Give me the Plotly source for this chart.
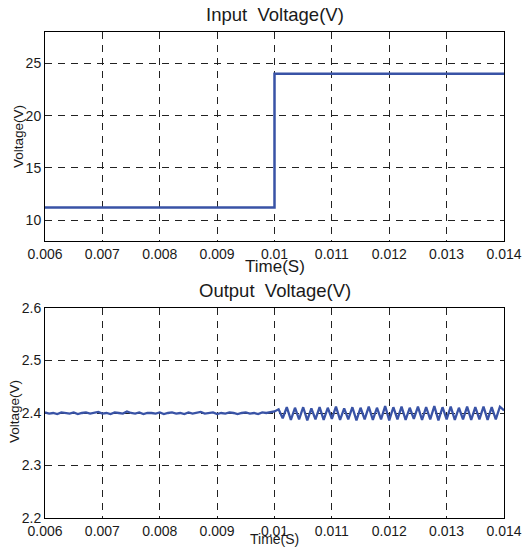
import plotly.graph_objects as go

# ---------------- data ----------------
input_time = [0.006, 0.010, 0.010, 0.014]
input_voltage = [11.2, 11.2, 24.0, 24.0]

output_t_start = 0.006
output_t_end = 0.014
output_voltage_before = [
    2.401, 2.399, 2.400, 2.398, 2.401, 2.400, 2.399, 2.401,
    2.398, 2.400, 2.401, 2.399, 2.400, 2.402, 2.399, 2.400,
    2.398, 2.401, 2.400, 2.399, 2.403, 2.400, 2.399, 2.401,
    2.398, 2.400, 2.400, 2.399, 2.401, 2.398, 2.400, 2.401,
    2.399, 2.400, 2.398, 2.401, 2.399, 2.400, 2.402, 2.399,
    2.400, 2.401, 2.398, 2.400, 2.399, 2.401, 2.400, 2.398,
    2.400, 2.401, 2.399, 2.400, 2.398, 2.401, 2.400, 2.401,
]
output_voltage_after = [
    2.403, 2.407, 2.390,
    2.411, 2.387, 2.410, 2.388, 2.411, 2.386, 2.409, 2.388,
    2.411, 2.387, 2.410, 2.389, 2.412, 2.387, 2.409, 2.388,
    2.411, 2.386, 2.410, 2.388, 2.412, 2.387, 2.410, 2.388,
    2.413, 2.386, 2.411, 2.388, 2.412, 2.387, 2.410, 2.389,
    2.412, 2.387, 2.411, 2.388, 2.413, 2.386, 2.411, 2.388,
    2.412, 2.387, 2.410, 2.388, 2.412, 2.387, 2.411, 2.388,
    2.412, 2.387, 2.411, 2.388, 2.412, 2.405,
]
output_voltage = output_voltage_before + output_voltage_after

x_tick_vals = [0.006, 0.007, 0.008, 0.009, 0.010, 0.011, 0.012, 0.013, 0.014]
x_tick_text = ["0.006", "0.007", "0.008", "0.009", "0.01", "0.011", "0.012", "0.013", "0.014"]
top_y_tick_vals = [10, 15, 20, 25]
top_y_tick_text = ["10", "15", "20", "25"]
bot_y_tick_vals = [2.2, 2.3, 2.4, 2.5, 2.6]
bot_y_tick_text = ["2.2", "2.3", "2.4", "2.5", "2.6"]

# ---------------- figure ----------------
W, H = 525, 547
LINE_COLOR = "#3953a6"
FONT = "Liberation Sans, Arial, sans-serif"
TEXT_COLOR = "#1a1a1a"

fig = go.Figure()
fig.add_trace(go.Scatter(x=input_time, y=input_voltage, mode="lines",
                         line=dict(color=LINE_COLOR, width=2.5),
                         xaxis="x", yaxis="y", showlegend=False))
fig.add_trace(go.Scatter(y=output_voltage, x0=output_t_start,
                         dx=(output_t_end - output_t_start) / (len(output_voltage) - 1),
                         mode="lines",
                         line=dict(color=LINE_COLOR, width=2.3),
                         xaxis="x2", yaxis="y2", showlegend=False))

def px_x(p):
    return p / W

def px_y(p):
    return 1 - p / H

axis_common = dict(showline=True, linecolor="black", linewidth=1, mirror=True,
                   showgrid=True, gridcolor="#222222", gridwidth=1, griddash="7px,6px",
                   zeroline=False, ticks="", automargin=False,
                   tickfont=dict(family=FONT, size=14, color=TEXT_COLOR))

fig.update_layout(
    width=W, height=H,
    margin=dict(l=0, r=0, t=0, b=0, autoexpand=False),
    paper_bgcolor="white", plot_bgcolor="white",
    font=dict(family=FONT, color=TEXT_COLOR),
    xaxis=dict(domain=[px_x(45), px_x(504)], range=[0.006, 0.014], anchor="y",
               tickvals=x_tick_vals, ticktext=x_tick_text, **axis_common),
    yaxis=dict(domain=[px_y(241), px_y(32)], range=[8, 28], anchor="x",
               tickvals=top_y_tick_vals, ticktext=top_y_tick_text, **axis_common),
    xaxis2=dict(domain=[px_x(45), px_x(504)], range=[0.006, 0.014], anchor="y2",
                tickvals=x_tick_vals, ticktext=x_tick_text, **axis_common),
    yaxis2=dict(domain=[px_y(518), px_y(308)], range=[2.2, 2.6], anchor="x2",
                tickvals=bot_y_tick_vals, ticktext=bot_y_tick_text, **axis_common),
)

annots = [
    dict(text="Input\u00a0 Voltage(V)", x=px_x(274.5), y=px_y(15), size=18.5, angle=0),
    dict(text="Output\u00a0 Voltage(V)", x=px_x(274.5), y=px_y(290), size=18.5, angle=0),
    dict(text="Time(S)", x=px_x(274.5), y=px_y(266), size=17, angle=0),
    dict(text="Time(S)", x=px_x(274.5), y=px_y(539), size=14, angle=0),
    dict(text="Voltage(V)", x=px_x(19), y=px_y(137), size=13.5, angle=-90),
    dict(text="Voltage(V)", x=px_x(14), y=px_y(412), size=13.5, angle=-90),
]
for a in annots:
    fig.add_annotation(text=a["text"], x=a["x"], y=a["y"], xref="paper", yref="paper",
                       xanchor="center", yanchor="middle", showarrow=False,
                       textangle=a["angle"], font=dict(family=FONT, size=a["size"], color=TEXT_COLOR))

fig.write_html("out.html", config={"displayModeBar": False},
               post_script="document.body.style.margin='0';document.body.style.overflow='hidden';")
